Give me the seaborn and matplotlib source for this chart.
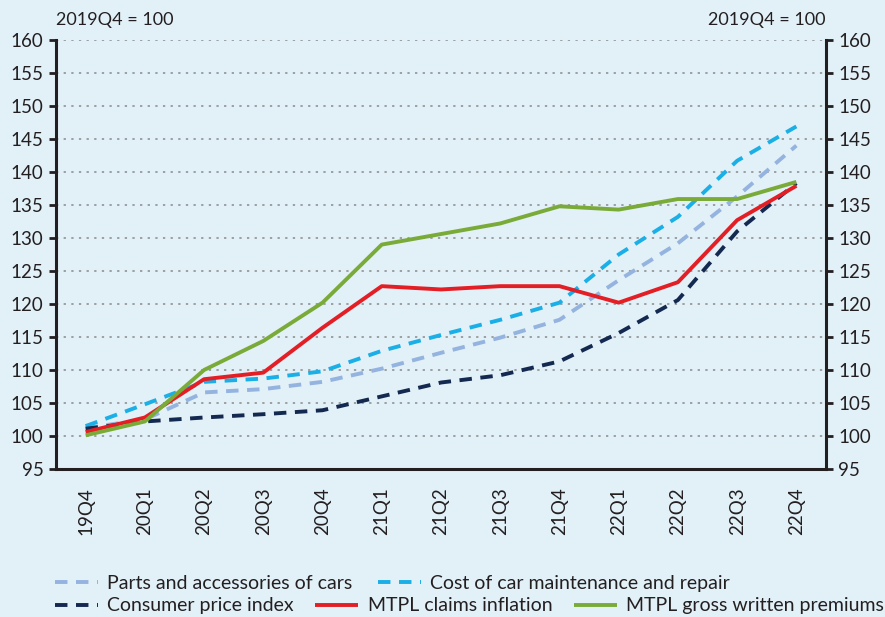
import numpy as np
import matplotlib
matplotlib.use("Agg")
import matplotlib.pyplot as plt
import pandas as pd
import seaborn as sns

quarters = ["19Q4", "20Q1", "20Q2", "20Q3", "20Q4", "21Q1", "21Q2",
            "21Q3", "21Q4", "22Q1", "22Q2", "22Q3", "22Q4"]
parts = [101.2, 102.5, 106.6, 107.1, 108.2, 110.2, 112.6, 114.9, 117.6, 123.6, 129.2, 136.3, 144.0]
maintenance = [101.5, 104.8, 108.2, 108.7, 109.8, 112.9, 115.3, 117.6, 120.2, 127.5, 133.2, 141.7, 146.9]
cpi = [101.1, 102.2, 102.8, 103.3, 103.9, 106.0, 108.1, 109.2, 111.3, 115.6, 120.6, 131.0, 138.3]
claims = [100.6, 102.8, 108.6, 109.6, 116.4, 122.7, 122.2, 122.7, 122.7, 120.2, 123.3, 132.7, 137.9]
premiums = [100.1, 102.2, 110.0, 114.4, 120.2, 129.0, 130.6, 132.2, 134.8, 134.3, 135.9, 135.9, 138.5]

series_names = ["Parts and accessories of cars", "Cost of car maintenance and repair",
                "Consumer price index", "MTPL claims inflation", "MTPL gross written premiums"]
series_vals = [parts, maintenance, cpi, claims, premiums]
colors = ["#94B3DF", "#1AAFE6", "#14294F", "#E31E25", "#7AAB38"]
dashed = [True, True, True, False, False]

sns.set_style("white")
plt.rcParams["font.family"] = ["Lato", "DejaVu Sans"]

bg = "#E2F0F8"
fig = plt.figure(figsize=(8.85, 6.17), dpi=100, facecolor=bg)
ax = fig.add_axes([0.0633, 0.2399, 0.870, 0.6953])
ax.set_facecolor(bg)

x = np.arange(len(quarters))
handles = []
for name, vals, c, d in zip(series_names, series_vals, colors, dashed):
    df = pd.DataFrame({"q": x, "v": vals})
    sns.lineplot(data=df, x="q", y="v", ax=ax, color=c, lw=2.8, sort=False,
                 label=name, legend=False)
    line = ax.get_lines()[-1]
    if d:
        line.set_dashes((3.2, 2.2))
    line.set_solid_capstyle("butt")
    line.set_dash_capstyle("butt")
    handles.append(line)

ax.set_xlim(-0.5, len(quarters) - 0.5)
ax.set_ylim(95, 160)
ax.set_yticks(np.arange(95, 161, 5))
ax.set_xticks(x)
ax.set_xticklabels(quarters, rotation=90)
ax.set_xticks(np.arange(-0.5, len(quarters), 1), minor=True)
ax.set_xlabel("")
ax.set_ylabel("")

# dotted gridlines
for yv in range(100, 161, 5):
    ax.axhline(yv, color="#8A8A8A", lw=1.1, ls=(0, (1.5, 3.5)), zorder=0)

spine_c = "#231F20"
for s in ["top", "right"]:
    ax.spines[s].set_visible(False)
for s in ["left", "bottom"]:
    ax.spines[s].set_color(spine_c)
    ax.spines[s].set_linewidth(2.2)

ax.tick_params(axis="x", which="major", length=0, pad=13, labelsize=13.5, colors="#231F20")
ax.tick_params(axis="x", which="minor", length=5, width=2, color=spine_c, direction="out")
ax.tick_params(axis="y", length=5, width=2, color=spine_c, labelsize=13.5, pad=4,
               labelcolor="#231F20", direction="out")

# right axis, same scale
ax2 = ax.twinx()
ax2.set_ylim(95, 160)
ax2.set_yticks(np.arange(95, 161, 5))
for s in ["top", "left", "bottom"]:
    ax2.spines[s].set_visible(False)
ax2.spines["right"].set_color(spine_c)
ax2.spines["right"].set_linewidth(2.2)
ax2.tick_params(axis="y", length=5, width=2, color=spine_c, labelsize=13.5, pad=4,
                labelcolor="#231F20", direction="out")

fig.text(0.0633, 0.955, "2019Q4 = 100", fontsize=13, color="#231F20", ha="left", va="bottom")
fig.text(0.933, 0.955, "2019Q4 = 100", fontsize=13, color="#231F20", ha="right", va="bottom")

leg_kw = dict(frameon=False, fontsize=14, handlelength=2.2, handletextpad=0.5,
              labelcolor="#231F20", borderaxespad=0, borderpad=0)
fig.legend(handles[:2], series_names[:2], loc="center left", ncol=2,
           bbox_to_anchor=(0.062, 0.055), columnspacing=1.3, **leg_kw)
fig.legend(handles[2:], series_names[2:], loc="center left", ncol=3,
           bbox_to_anchor=(0.062, 0.018), columnspacing=1.1, **leg_kw)

fig.savefig("out.png", dpi=100, facecolor=bg)
